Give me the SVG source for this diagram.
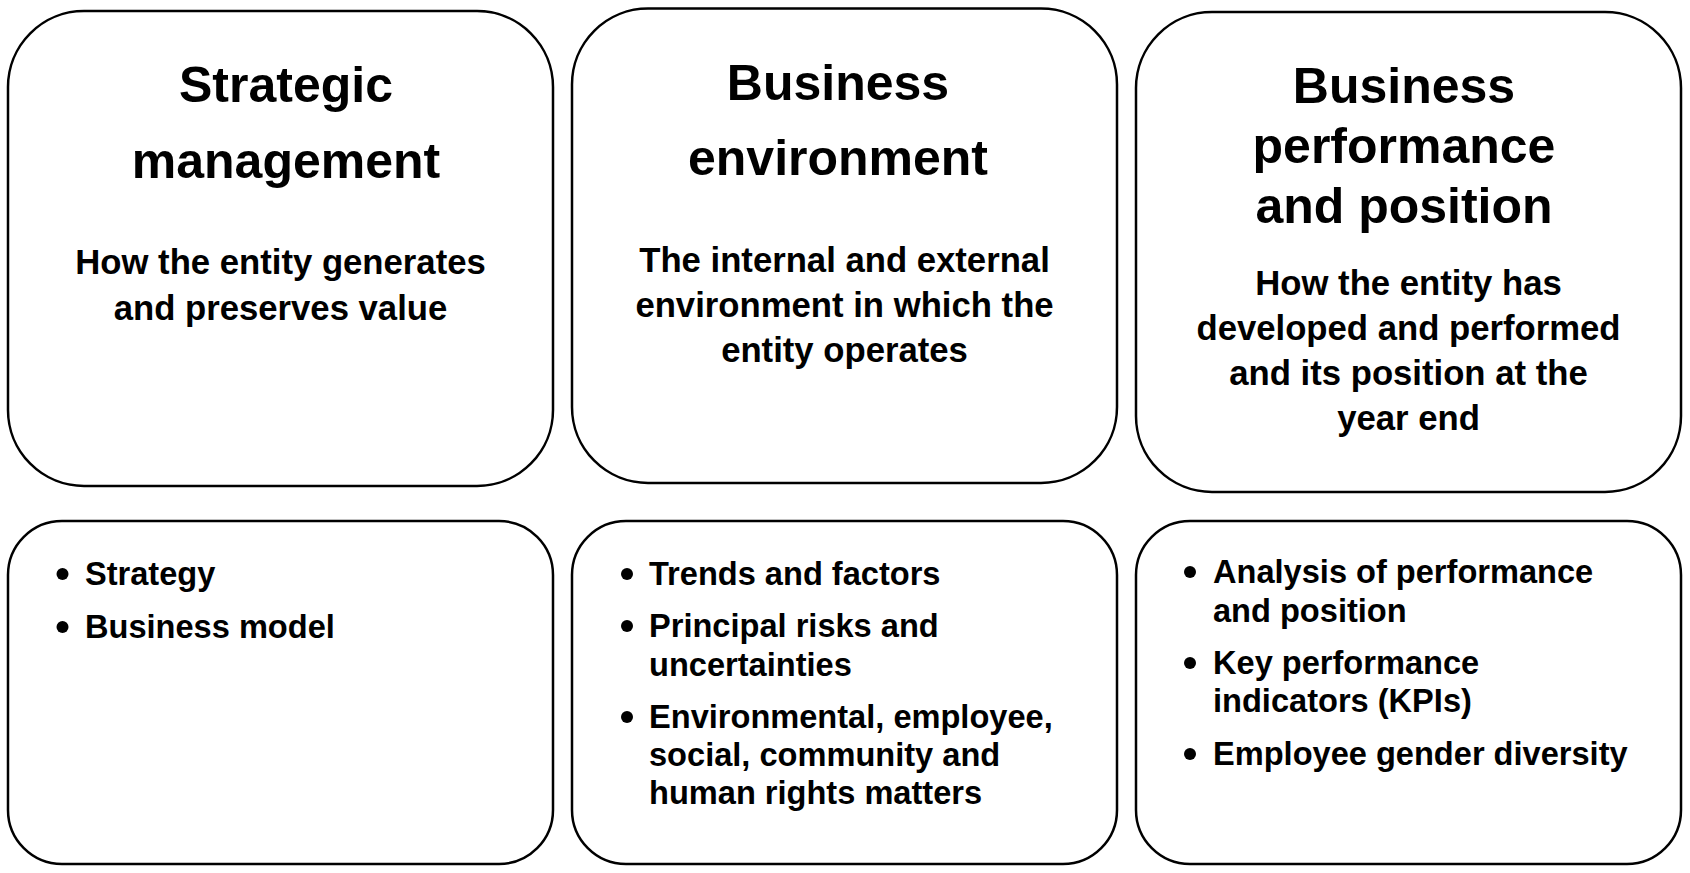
<svg xmlns="http://www.w3.org/2000/svg" width="1690" height="873" viewBox="0 0 1690 873">
<style>
.box{fill:#fff;stroke:#000;stroke-width:2.5}
text{font-family:"Liberation Sans",Arial,sans-serif;font-weight:bold;fill:#000}
.t{font-size:50px;text-anchor:middle}
.s{font-size:34.7px;text-anchor:middle}
.b{font-size:32.6px}
.dot{fill:#000}
</style>
<rect width="1690" height="873" fill="#fff"/>
<g id="connectors"></g>
<g id="strategic-management">
<rect class="box" x="8" y="11" width="545" height="475" rx="76" ry="76"/>
<text class="t" x="286" y="102">Strategic</text>
<text class="t" x="286" y="178">management</text>
<text class="s" x="280.5" y="274">How the entity generates</text>
<text class="s" x="280.5" y="320">and preserves value</text>
</g>
<g id="business-environment">
<rect class="box" x="572" y="8.5" width="545" height="474.5" rx="76" ry="76"/>
<text class="t" x="838" y="100">Business</text>
<text class="t" x="838" y="175">environment</text>
<text class="s" x="844.5" y="272">The internal and external</text>
<text class="s" x="844.5" y="317">environment in which the</text>
<text class="s" x="844.5" y="362">entity operates</text>
</g>
<g id="business-performance">
<rect class="box" x="1136" y="12" width="545" height="480" rx="76" ry="76"/>
<text class="t" x="1404" y="103">Business</text>
<text class="t" x="1404" y="163">performance</text>
<text class="t" x="1404" y="223">and position</text>
<text class="s" x="1408.5" y="295">How the entity has</text>
<text class="s" x="1408.5" y="340">developed and performed</text>
<text class="s" x="1408.5" y="385">and its position at the</text>
<text class="s" x="1408.5" y="430">year end</text>
</g>
<g id="strategic-items">
<rect class="box" x="8" y="521" width="545" height="343" rx="54" ry="54"/>
<circle class="dot" cx="62.5" cy="574" r="6"/>
<text class="b" x="85" y="585">Strategy</text>
<circle class="dot" cx="62.5" cy="627" r="6"/>
<text class="b" x="85" y="638">Business model</text>
</g>
<g id="environment-items">
<rect class="box" x="572" y="521" width="545" height="343" rx="54" ry="54"/>
<circle class="dot" cx="627" cy="574" r="6"/>
<text class="b" x="649" y="585">Trends and factors</text>
<circle class="dot" cx="627" cy="626" r="6"/>
<text class="b" x="649" y="637">Principal risks and</text>
<text class="b" x="649" y="676">uncertainties</text>
<circle class="dot" cx="627" cy="717" r="6"/>
<text class="b" x="649" y="728">Environmental, employee,</text>
<text class="b" x="649" y="766">social, community and</text>
<text class="b" x="649" y="804">human rights matters</text>
</g>
<g id="performance-items">
<rect class="box" x="1136" y="521" width="545" height="343" rx="54" ry="54"/>
<circle class="dot" cx="1190" cy="572" r="6"/>
<text class="b" x="1213" y="583">Analysis of performance</text>
<text class="b" x="1213" y="622">and position</text>
<circle class="dot" cx="1190" cy="663" r="6"/>
<text class="b" x="1213" y="674">Key performance</text>
<text class="b" x="1213" y="712">indicators (KPIs)</text>
<circle class="dot" cx="1190" cy="754" r="6"/>
<text class="b" x="1213" y="765">Employee gender diversity</text>
</g>
</svg>
